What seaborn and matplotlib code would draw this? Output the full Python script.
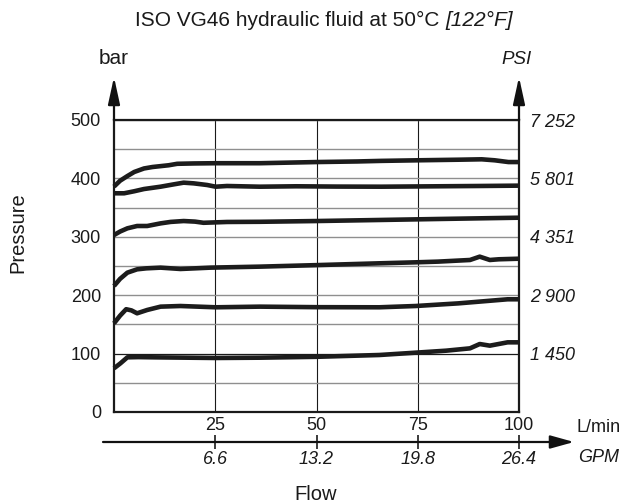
import matplotlib
matplotlib.use("Agg")
import matplotlib.pyplot as plt
import numpy as np
import pandas as pd
import seaborn as sns

# ---------------- data ----------------
flow_a = [0, 1.5, 3.3, 5, 7.4, 9.5, 11.5, 13.5, 15.6, 19.7, 25, 36, 50, 60, 66, 75, 85, 90.8, 94, 97.4, 100]
pres_a = [386, 396, 404, 411, 417, 419.5, 421, 422.5, 425, 425.6, 426, 426, 428, 429, 430, 431, 432, 432.7, 431, 428, 428]

flow_b = [0, 2.5, 5, 7.4, 11.5, 14.5, 17.2, 19.7, 23, 25.1, 27.9, 36, 45, 55, 66, 80, 90, 100]
pres_b = [374.5, 374.5, 378, 381.8, 385.8, 389.5, 392.7, 391.5, 388.7, 385.8, 387, 385.8, 386.5, 386, 385.8, 386.5, 387, 387.6]

flow_c = [0, 1.5, 3.3, 5.7, 8.2, 11.5, 14, 17.2, 20, 22.1, 27.9, 36, 50, 65.5, 80, 100]
pres_c = [303, 309, 314.5, 318.5, 318.5, 323, 325.5, 327, 326, 324, 325.4, 325.7, 327, 328.8, 330.5, 332.7]

flow_d = [0, 1.5, 3.3, 5.7, 8, 11.5, 16.4, 20, 23.8, 36, 50, 65.5, 74.5, 80, 87.9, 90.3, 92.8, 95, 100]
pres_d = [215.8, 228, 238.6, 244.3, 246, 247.2, 244.9, 246, 247.2, 248.9, 251.5, 254.6, 256.3, 257.5, 260.3, 266, 260.3, 261.5, 262.5]

flow_e = [0, 1.5, 3, 4.3, 5.7, 8.2, 11.5, 16.4, 25.1, 36, 50, 65.5, 74.5, 85, 97.2, 100]
pres_e = [151.8, 165, 176, 174, 169, 174.7, 180.4, 181.5, 179.3, 180.4, 179.5, 179.3, 181.5, 186, 193, 193]

flow_f = [0, 1.6, 3.3, 6, 10, 25, 36, 50, 65.5, 74.5, 82, 87.9, 90.3, 92.8, 97.2, 100]
pres_f = [74.8, 83.4, 93.6, 94, 93.6, 92.5, 93, 94.5, 97.6, 101.6, 105, 109, 116.4, 113.6, 119.3, 119.3]

flow_ticks = [25, 50, 75, 100]
flow_labels = ["25", "50", "75", "100"]
gpm_ticks = [6.6, 13.2, 19.8, 26.4]
gpm_labels = ["6.6", "13.2", "19.8", "26.4"]
pressure_ticks = [0, 100, 200, 300, 400, 500]
pressure_labels = ["0", "100", "200", "300", "400", "500"]
pressure_minor = [50, 150, 250, 350, 450]
psi_ticks = [1450.3, 2900.7, 4351.1, 5801.5, 7251.8]
psi_labels = ["1 450", "2 900", "4 351", "5 801", "7 252"]

title_main = "ISO VG46 hydraulic fluid at 50°C"
title_ital = "[122°F]"

# ---------------- style ----------------
sns.set_style("white")
plt.rcParams["font.family"] = ["Liberation Sans", "DejaVu Sans"]

W, H = 625, 503
fig = plt.figure(figsize=(W / 100, H / 100), dpi=100)
ax = fig.add_axes([114 / W, 1 - 412 / H, 405 / W, 292 / H])

curves = {"a": (flow_a, pres_a), "b": (flow_b, pres_b), "c": (flow_c, pres_c),
          "d": (flow_d, pres_d), "e": (flow_e, pres_e), "f": (flow_f, pres_f)}
df = pd.concat([pd.DataFrame({"flow": xs, "pressure": ys, "curve": k})
                for k, (xs, ys) in curves.items()], ignore_index=True)

sns.lineplot(data=df, x="flow", y="pressure", units="curve", estimator=None,
             color="#1c1c1c", lw=3.3, sort=False, ax=ax, legend=False)
for ln in ax.lines:
    ln.set_solid_joinstyle("round")
    ln.set_solid_capstyle("butt")
    ln.set_clip_on(False)

ax.set_xlim(0, 100)
ax.set_ylim(0, 500)
ax.set_xlabel("")
ax.set_ylabel("")
ax.set_xticks(flow_ticks, labels=flow_labels)
ax.set_yticks(pressure_ticks, labels=pressure_labels)
ax.set_yticks(pressure_minor, minor=True)
ax.tick_params(axis="both", which="both", length=0, labelsize=13, colors="#1a1a1a")
ax.tick_params(axis="x", pad=3.5)
ax.tick_params(axis="y", pad=9.4)
ax.grid(False)
ax.yaxis.grid(True, which="both", color="#8f8f8f", lw=1.0)
ax.xaxis.grid(True, which="major", color="#1a1a1a", lw=0.8)
ax.get_ygridlines()[1].set_color("#1a1a1a")
ax.get_ygridlines()[1].set_linewidth(0.9)
for s in ax.spines.values():
    s.set_visible(True)
    s.set_color("#1a1a1a")
    s.set_linewidth(1.6)

# right PSI axis
sec_y = ax.secondary_yaxis("right", functions=(lambda b: b * 14.50377, lambda p: p / 14.50377))
sec_y.set_yticks(psi_ticks, labels=psi_labels, fontstyle="italic")
sec_y.tick_params(length=0, pad=8, labelsize=13, colors="#1a1a1a")
sec_y.spines["right"].set_visible(False)

# bottom GPM axis
sec_x = ax.secondary_xaxis(-30 / 292, functions=(lambda l: l * 0.264, lambda g: g / 0.264))
sec_x.set_xticks(gpm_ticks, labels=gpm_labels, fontstyle="italic")
sec_x.tick_params(direction="inout", length=9.4, width=1.2, pad=2, labelsize=13,
                  color="#1a1a1a", labelcolor="#1a1a1a")
sec_x.spines["bottom"].set_visible(False)


def arrow(x0, y0, x1, y1, hl, hw):
    ax.annotate("", xy=(x1, y1), xytext=(x0, y0), xycoords="axes fraction",
                textcoords="axes fraction", annotation_clip=False,
                arrowprops=dict(arrowstyle=f"-|>,head_length={hl},head_width={hw}",
                                mutation_scale=1, lw=1.6, color="#111111",
                                shrinkA=0, shrinkB=0))


arrow(0, 1, 0, 1 + 43 / 292, 16.5, 3.6)
arrow(1, 1, 1, 1 + 43 / 292, 16.5, 3.6)
arrow(-11 / 405, -30 / 292, 460 / 405, -30 / 292, 14.4, 4.0)


def ft(x, y, s, **kw):
    return fig.text(x / W, 1 - y / H, s, color="#1a1a1a", **kw)


ft(114, 58, "bar", ha="center", va="center", fontsize=15)
ft(517, 60, "PSI", ha="center", va="center", fontsize=13.5, style="italic")
ft(577, 427, "L/min", ha="left", va="center", fontsize=13)
ft(578, 457, "GPM", ha="left", va="center", fontsize=13, style="italic")
ft(316, 495, "Flow", ha="center", va="center", fontsize=14.5)
ft(17.5, 233, "Pressure", rotation=90, ha="center", va="center", fontsize=14.5)

# title in two styles
r = fig.canvas.get_renderer()
t1 = ft(0, 20, title_main, ha="left", va="center", fontsize=15)
t2 = ft(0, 20, title_ital, ha="left", va="center", fontsize=15, style="italic")
w1 = t1.get_window_extent(r).width
w2 = t2.get_window_extent(r).width
gap = 0.278 * 15 / 0.72
x0 = 324 - (w1 + gap + w2) / 2
t1.set_x(x0 / W)
t2.set_x((x0 + w1 + gap) / W)

fig.savefig("out.png", dpi=100)
